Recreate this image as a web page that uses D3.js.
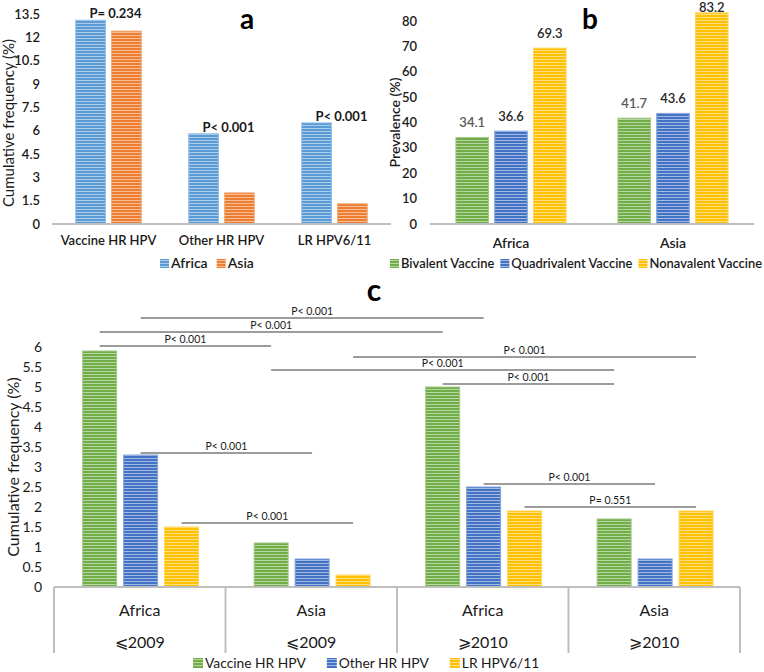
<!DOCTYPE html>
<html><head><meta charset="utf-8">
<script src="https://cdn.jsdelivr.net/npm/d3@7"></script>
<style>
body{margin:0;background:#fff;}
text{font-family:Lato,"Open Sans",sans-serif;}
</style>
</head><body><svg id="chart" width="764" height="672"></svg>
<script>
// ---------- Panel a data ----------
const aCategories = ["Vaccine HR HPV", "Other HR HPV", "LR HPV6/11"];
const aSeries = ["Africa", "Asia"];
const aAfrica = [13.1, 5.8, 6.5];
const aAsia = [12.4, 2.0, 1.3];
const aPLabels = ["P= 0.234", "P< 0.001", "P< 0.001"];
const aTicks = [0, 1.5, 3, 4.5, 6, 7.5, 9, 10.5, 12, 13.5];

// ---------- Panel b data ----------
const bCategories = ["Africa", "Asia"];
const bSeries = ["Bivalent Vaccine", "Quadrivalent Vaccine", "Nonavalent Vaccine"];
const bBivalent = [34.1, 41.7];
const bQuadrivalent = [36.6, 43.6];
const bNonavalent = [69.3, 83.2];
const bTicks = [0, 10, 20, 30, 40, 50, 60, 70, 80];

// ---------- Panel c data ----------
const cRegions = ["Africa", "Asia", "Africa", "Asia"];
const cPeriods = ["⩽2009", "⩽2009", "⩾2010", "⩾2010"];
const cSeries = ["Vaccine HR HPV", "Other HR HPV", "LR HPV6/11"];
const cVaccineHR = [5.9, 1.1, 5.0, 1.7];
const cOtherHR = [3.3, 0.7, 2.5, 0.7];
const cLR = [1.5, 0.3, 1.9, 1.9];
const cTicks = [0, 0.5, 1, 1.5, 2, 2.5, 3, 3.5, 4, 4.5, 5, 5.5, 6];
// comparison brackets
const cCompGroupA = [0, 0, 0, 1, 1, 2, 0, 0, 2, 2];
const cCompGroupB = [2, 2, 1, 3, 3, 3, 1, 1, 3, 3];
const cCompSeries = [1, 0, 0, 2, 0, 0, 1, 2, 1, 2];
const cCompLevel = [6.725, 6.375, 6.025, 5.75, 5.425, 5.075, 3.35, 1.6, 2.575, 2.0];
const cCompLabel = ["P< 0.001", "P< 0.001", "P< 0.001", "P< 0.001", "P< 0.001", "P< 0.001", "P< 0.001", "P< 0.001", "P< 0.001", "P= 0.551"];

// ---------- colours ----------
const colAfrica = "#5b9bd5", colAsia = "#ed7d31";
const colGreen = "#70ad47", colBlue = "#4472c4", colYellow = "#ffc000";

const svg = d3.select("#chart");
svg.append("rect").attr("width", 764).attr("height", 672).attr("fill", "#fff");
const defs = svg.append("defs");
function pat(color) {
  const id = "p" + color.slice(1);
  if (!document.getElementById(id)) {
    const light = d3.interpolateRgb(color, "#ffffff")(0.5);
    const p = defs.append("pattern").attr("id", id).attr("patternUnits", "userSpaceOnUse")
      .attr("width", 6).attr("height", 3);
    p.append("rect").attr("width", 6).attr("height", 3).attr("fill", color);
    p.append("rect").attr("y", 2).attr("width", 6).attr("height", 1).attr("fill", light);
  }
  return "url(#" + id + ")";
}
function lighter(c) { return d3.interpolateRgb(c, "#ffffff")(0.35); }
const axisGray = "#bfbfbf";
const txt = "#1a1a1a";

function yAxis(g, scale, ticks, x, size, weight) {
  g.selectAll("text.tick").data(ticks).join("text")
    .attr("x", x).attr("y", d => scale(d)).attr("dy", "0.35em")
    .attr("text-anchor", "end").attr("font-size", size).attr("font-weight", weight)
    .attr("fill", txt).text(d => d);
}

// legend that fits between x0 and x1
function legend(g, items, cols, x0, x1, yBase, size, sq, gap, weight) {
  let fs = size;
  for (let iter = 0; iter < 6; iter++) {
    g.selectAll(".lg").remove();
    let lx = x0;
    items.forEach((s, k) => {
      g.append("rect").attr("class", "lg").attr("x", lx).attr("y", yBase - sq).attr("width", sq).attr("height", sq).attr("fill", pat(cols[k]));
      const t = g.append("text").attr("class", "lg").attr("x", lx + sq + 2).attr("y", yBase).attr("font-size", fs).attr("font-weight", weight)
        .attr("fill", txt).text(s);
      lx += sq + 2 + t.node().getComputedTextLength() + gap;
    });
    const end = lx - gap;
    if (end <= x1) break;
    fs = fs * (x1 - x0) / (end - x0) - 0.05;
  }
}

// ===================== Panel a =====================
{
  const g = svg.append("g");
  const y = d3.scaleLinear().domain([0, 13.5]).range([224, 14]);
  const x0 = d3.scaleBand().domain(aCategories).range([52, 391]);
  const x1 = d3.scaleBand().domain(aSeries).range([x0.bandwidth() * 0.21, x0.bandwidth() * 0.79]).paddingInner(0.17);
  const vals = { Africa: aAfrica, Asia: aAsia };
  const cols = { Africa: colAfrica, Asia: colAsia };
  aCategories.forEach((c, i) => {
    aSeries.forEach(s => {
      g.append("rect").attr("x", x0(c) + x1(s)).attr("y", y(vals[s][i]))
        .attr("width", x1.bandwidth()).attr("height", y(0) - y(vals[s][i]))
        .attr("fill", pat(cols[s])).attr("stroke", lighter(cols[s])).attr("stroke-width", 1);
    });
    g.append("text").attr("x", x0(c) + x1("Africa") + x1.bandwidth() + 10).attr("y", y(aAfrica[i]) - 2)
      .attr("text-anchor", "middle").attr("font-size", 13).attr("font-weight", 700).attr("fill", txt).text(aPLabels[i]);
    g.append("text").attr("x", x0(c) + x0.bandwidth() / 2).attr("y", 245)
      .attr("text-anchor", "middle").attr("font-size", 13).attr("font-weight", 600).attr("fill", txt).text(c);
  });
  g.append("line").attr("x1", 52).attr("x2", 391).attr("y1", y(0)).attr("y2", y(0))
    .attr("stroke", axisGray).attr("stroke-width", 2);
  yAxis(g, y, aTicks, 40, 13, 600);
  g.append("text").attr("transform", `translate(14,${(y(0) + y(13.5)) / 2 + 4}) rotate(-90)`)
    .attr("text-anchor", "middle").attr("font-size", 15).attr("fill", txt).text("Cumulative frequency (%)");
  g.append("text").attr("x", 247).attr("y", 29).attr("text-anchor", "middle")
    .attr("font-size", 28).attr("font-weight", 700).attr("fill", "#000").text("a");
  legend(g, aSeries, [colAfrica, colAsia], 160, 300, 268, 14, 9, 9, 600);
}

// ===================== Panel b =====================
{
  const g = svg.append("g");
  const y = d3.scaleLinear().domain([0, 80]).range([224, 21]);
  const x0 = d3.scaleBand().domain(bCategories).range([430, 754]);
  const x1 = d3.scaleBand().domain(bSeries).range([x0.bandwidth() * 0.16, x0.bandwidth() * 0.84]).paddingInner(0.16);
  const vals = [bBivalent, bQuadrivalent, bNonavalent];
  const cols = [colGreen, colBlue, colYellow];
  const labCols = ["#595959", "#262626", "#262626"];
  bCategories.forEach((c, i) => {
    bSeries.forEach((s, k) => {
      const v = vals[k][i];
      g.append("rect").attr("x", x0(c) + x1(s)).attr("y", y(v))
        .attr("width", x1.bandwidth()).attr("height", y(0) - y(v))
        .attr("fill", pat(cols[k])).attr("stroke", lighter(cols[k])).attr("stroke-width", 1);
      g.append("text").attr("x", x0(c) + x1(s) + x1.bandwidth() / 2).attr("y", Math.max(y(v) - 10, 12))
        .attr("text-anchor", "middle").attr("font-size", 13).attr("font-weight", 600).attr("fill", labCols[k]).text(v.toFixed(1));
    });
    g.append("text").attr("x", x0(c) + x0.bandwidth() / 2).attr("y", 248)
      .attr("text-anchor", "middle").attr("font-size", 14).attr("font-weight", 600).attr("fill", txt).text(c);
  });
  g.append("line").attr("x1", 430).attr("x2", 754).attr("y1", y(0)).attr("y2", y(0))
    .attr("stroke", axisGray).attr("stroke-width", 2);
  yAxis(g, y, bTicks, 417, 13, 600);
  g.append("text").attr("transform", `translate(400,${(y(0) + y(80)) / 2}) rotate(-90)`)
    .attr("text-anchor", "middle").attr("font-size", 14).attr("font-weight", 600).attr("fill", txt).text("Prevalence (%)");
  g.append("text").attr("x", 590).attr("y", 29).attr("text-anchor", "middle")
    .attr("font-size", 28).attr("font-weight", 700).attr("fill", "#000").text("b");
  legend(g, bSeries, cols, 390, 763, 268, 14, 9, 6, 600);
}

// ===================== Panel c =====================
{
  const g = svg.append("g");
  const groups = cRegions.map((r, i) => i);
  const y = d3.scaleLinear().domain([0, 6]).range([587, 347]);
  const x0 = d3.scaleBand().domain(groups).range([54, 740]);
  const x1 = d3.scaleBand().domain([0, 1, 2]).range([x0.bandwidth() * 0.167, x0.bandwidth() * 0.843]).paddingInner(0.17);
  const vals = [cVaccineHR, cOtherHR, cLR];
  const cols = [colGreen, colBlue, colYellow];
  groups.forEach(gi => {
    cSeries.forEach((s, k) => {
      const v = vals[k][gi];
      g.append("rect").attr("x", x0(gi) + x1(k)).attr("y", y(v))
        .attr("width", x1.bandwidth()).attr("height", y(0) - y(v))
        .attr("fill", pat(cols[k])).attr("stroke", lighter(cols[k])).attr("stroke-width", 1);
    });
    g.append("text").attr("x", x0(gi) + x0.bandwidth() / 2).attr("y", 616)
      .attr("text-anchor", "middle").attr("font-size", 16).attr("fill", txt).text(cRegions[gi]);
    g.append("text").attr("x", x0(gi) + x0.bandwidth() / 2).attr("y", 648)
      .attr("text-anchor", "middle").attr("font-size", 16).attr("fill", txt).text(cPeriods[gi]);
  });
  // category axis
  g.append("line").attr("x1", 54).attr("x2", 740).attr("y1", y(0)).attr("y2", y(0))
    .attr("stroke", axisGray).attr("stroke-width", 2);
  groups.concat([groups.length]).forEach(gi => {
    const xx = gi < groups.length ? x0(gi) : x0(groups.length - 1) + x0.bandwidth();
    g.append("line").attr("x1", xx).attr("x2", xx).attr("y1", y(0)).attr("y2", 653)
      .attr("stroke", axisGray).attr("stroke-width", 2);
  });
  // brackets
  const bc = k => gi => x0(gi) + x1(k) + x1.bandwidth() / 2;
  cCompLevel.forEach((lv, i) => {
    const xa = bc(cCompSeries[i])(cCompGroupA[i]);
    const xb = bc(cCompSeries[i])(cCompGroupB[i]);
    g.append("line").attr("x1", xa).attr("x2", xb).attr("y1", y(lv)).attr("y2", y(lv))
      .attr("stroke", "#3a3a3a").attr("stroke-width", 1.2);
    g.append("text").attr("x", (xa + xb) / 2).attr("y", y(lv) - 3).attr("text-anchor", "middle")
      .attr("font-size", 10.5).attr("fill", txt).text(cCompLabel[i]);
  });
  yAxis(g, y, cTicks, 42, 14, 400);
  g.append("text").attr("transform", `translate(19,${(y(0) + y(6)) / 2}) rotate(-90)`)
    .attr("text-anchor", "middle").attr("font-size", 16).attr("fill", txt).text("Cumulative frequency (%)");
  g.append("text").attr("x", 374).attr("y", 301).attr("text-anchor", "middle")
    .attr("font-size", 30).attr("font-weight", 700).attr("fill", "#000").text("c");
  legend(g, cSeries, cols, 193, 540, 668, 16, 10, 21, 400);
}
</script>
</body></html>
